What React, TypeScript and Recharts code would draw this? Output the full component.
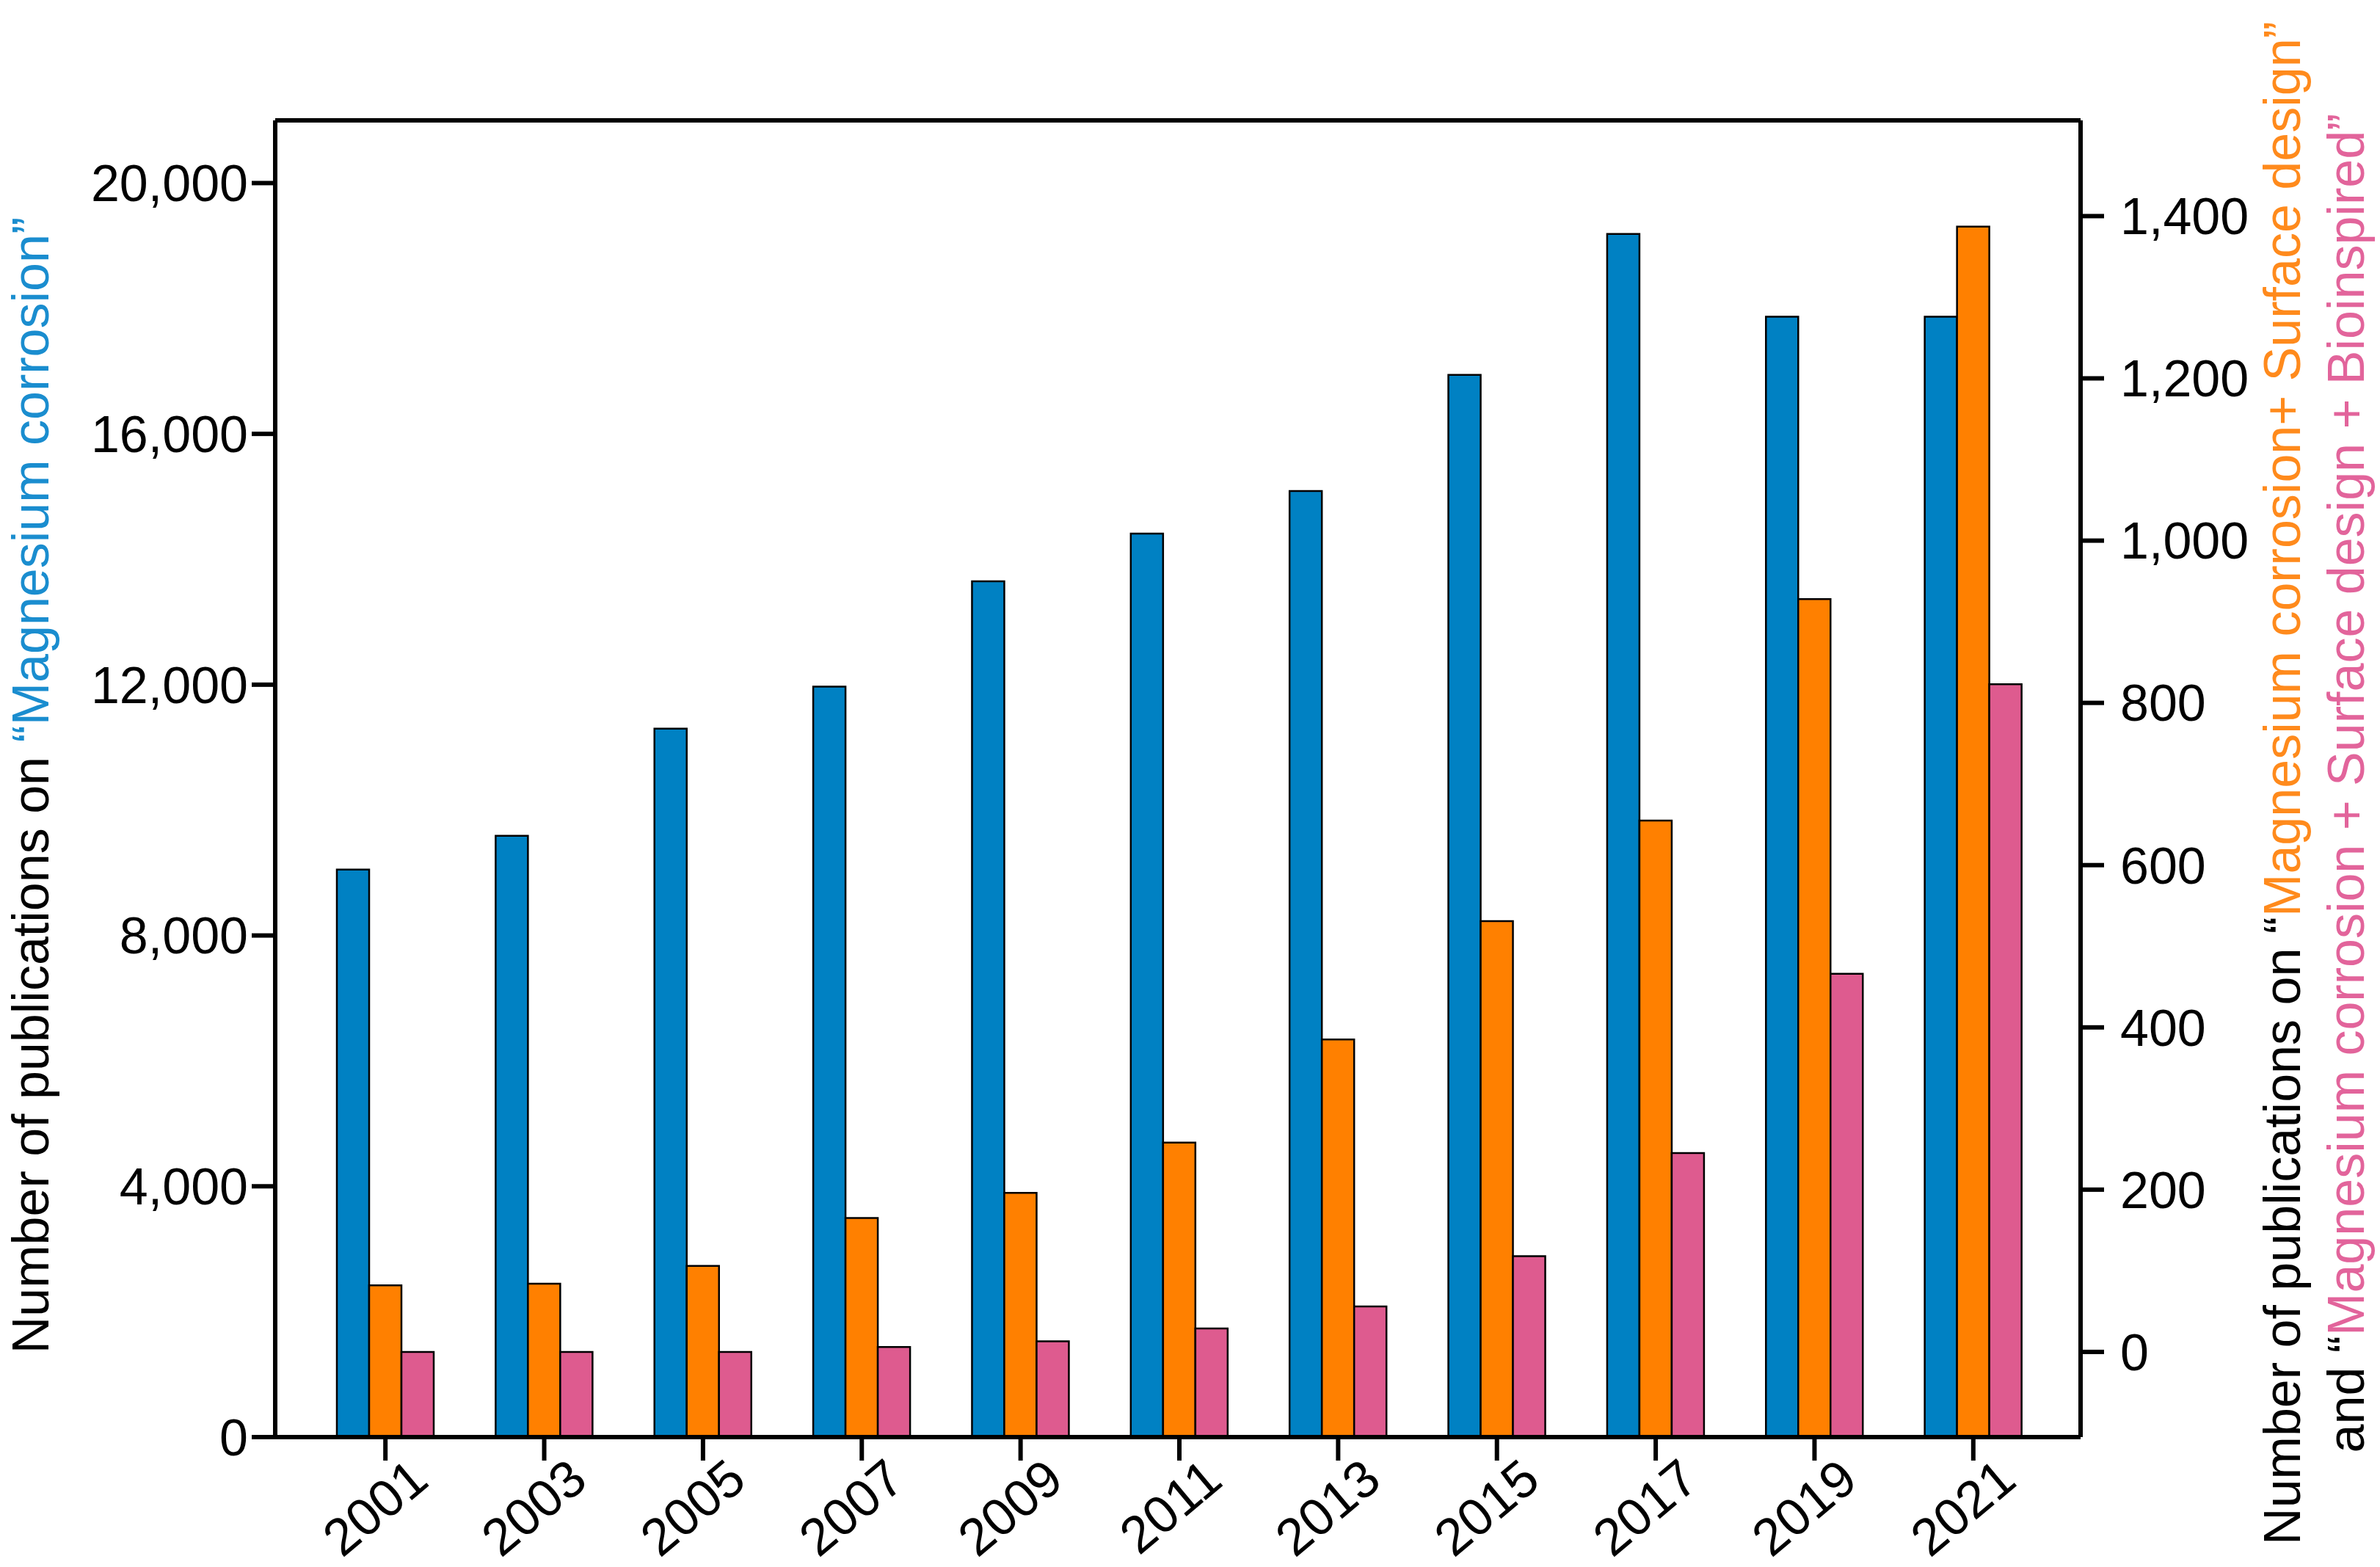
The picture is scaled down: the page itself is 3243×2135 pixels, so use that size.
import { BarChart, Bar, XAxis, YAxis, ReferenceLine } from "recharts";

const years = ["2001", "2003", "2005", "2007", "2009", "2011", "2013", "2015", "2017", "2019", "2021"];
const magnesium = [9050, 9590, 11300, 11970, 13650, 14410, 15090, 16940, 19190, 17870, 17870];
const surfaceDesign = [82, 84, 106, 165, 196, 258, 385, 531, 655, 928, 1387];
const bioinspired = [0, 0, 0, 6, 13, 29, 56, 118, 245, 466, 823];

const leftTicks = [0, 4000, 8000, 12000, 16000, 20000];
const rightTicks = [0, 200, 400, 600, 800, 1000, 1200, 1400];
const LEFT_MAX = 21000;
const RIGHT_MIN = -105;
const RIGHT_MAX = 1518;

const BLUE = "#0081c3";
const ORANGE = "#ff8000";
const PINK = "#de5b8f";
const FONT = "'Liberation Sans', Arial, sans-serif";

const data = years.map((year, i) => ({
  year,
  magnesium: magnesium[i],
  surface: surfaceDesign[i],
  bio: bioinspired[i],
}));

const fmt = (v: number) => v.toLocaleString("en-US");

function YearTick(props: any) {
  const { x, y, payload } = props;
  const ax = x + 62;
  const ay = y + 30;
  return (
    <text
      x={ax}
      y={ay}
      transform={`rotate(-40, ${ax}, ${ay})`}
      textAnchor="end"
      fontSize={71}
      fontFamily={FONT}
      fill="#000"
    >
      {payload.value}
    </text>
  );
}

function LeftTitle() {
  return (
    <text
      transform="translate(66,1070) rotate(-90)"
      textAnchor="middle"
      fontSize={70}
      fontFamily={FONT}
    >
      <tspan fill="#000">Number of publications on </tspan>
      <tspan fill="#1a8dcf">“Magnesium corrosion”</tspan>
    </text>
  );
}

function RightTitle() {
  return (
    <g fontSize={70} fontFamily={FONT}>
      <text transform="translate(3134,1067) rotate(-90)" textAnchor="middle">
        <tspan fill="#000">Number  of publications on “</tspan>
        <tspan fill="#ff8a1c">Magnesium corrosion+ Surface design”</tspan>
      </text>
      <text transform="translate(3221,1067) rotate(-90)" textAnchor="middle">
        <tspan fill="#000">and “</tspan>
        <tspan fill="#e2649b">Magnesium corrosion + Surface design + Bioinspired”</tspan>
      </text>
    </g>
  );
}

export default function App() {
  const axisLine = { stroke: "#000", strokeWidth: 6 };
  const tickStyle = { fontSize: 70, fill: "#000", fontFamily: FONT };
  return (
    <div style={{ position: "absolute", left: 0, top: 0, background: "#fff" }}>
      <BarChart
        width={3243}
        height={2135}
        data={data}
        margin={{ top: 164, right: 0, bottom: 0, left: 0 }}
        barSize={44}
        barGap={0}
        style={{ fontFamily: FONT }}
      >
        <XAxis
          dataKey="year"
          height={177}
          tickSize={32}
          interval={0}
          padding={{ left: 42, right: 38 }}
          axisLine={axisLine}
          tickLine={axisLine}
          tick={(p: any) => <YearTick {...p} />}
        />
        <YAxis
          yAxisId="left"
          width={375}
          domain={[0, LEFT_MAX]}
          ticks={leftTicks}
          allowDataOverflow
          tickSize={32}
          tickMargin={5}
          axisLine={axisLine}
          tickLine={axisLine}
          tick={tickStyle}
          tickFormatter={fmt}
          label={<LeftTitle />}
        />
        <YAxis
          yAxisId="right"
          orientation="right"
          width={408}
          domain={[RIGHT_MIN, RIGHT_MAX]}
          ticks={rightTicks}
          allowDataOverflow
          tickSize={32}
          tickMargin={22}
          axisLine={axisLine}
          tickLine={axisLine}
          tick={tickStyle}
          tickFormatter={fmt}
          label={<RightTitle />}
        />
        <ReferenceLine yAxisId="left" y={LEFT_MAX} stroke="#000" strokeWidth={6} />
        <Bar
          yAxisId="left"
          dataKey="magnesium"
          fill={BLUE}
          stroke="#000"
          strokeWidth={2.5}
          isAnimationActive={false}
        />
        <Bar
          yAxisId="right"
          dataKey={(d: any) => [RIGHT_MIN, d.surface]}
          fill={ORANGE}
          stroke="#000"
          strokeWidth={2.5}
          isAnimationActive={false}
        />
        <Bar
          yAxisId="right"
          dataKey={(d: any) => [RIGHT_MIN, d.bio]}
          fill={PINK}
          stroke="#000"
          strokeWidth={2.5}
          isAnimationActive={false}
        />
      </BarChart>
    </div>
  );
}
